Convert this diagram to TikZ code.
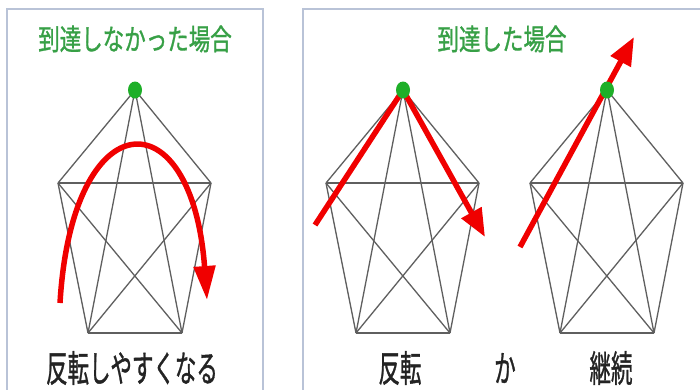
\documentclass[tikz,border=0pt]{standalone}
\usepackage{fontspec}
\newfontfamily\jp[FakeBold=1.2]{Noto Sans CJK JP}
\usetikzlibrary{arrows.meta,shapes.geometric}
\definecolor{framecol}{RGB}{185,195,215}
\definecolor{edgegray}{RGB}{95,95,95}
\definecolor{titlegreen}{RGB}{55,160,70}
\definecolor{dotgreen}{RGB}{30,175,40}
\definecolor{arrowred}{RGB}{240,0,0}
\definecolor{labelcol}{RGB}{35,35,35}
\tikzset{
  panel/.style={draw=framecol, line width=1.5pt},
  edge/.style={draw=edgegray, line width=1.3pt},
  thickedge/.style={draw=edgegray, line width=2.8pt},
  thinedge/.style={draw=edgegray, line width=2pt},
  redarrow/.style={draw=arrowred, line width=5.5pt, line join=miter,
    -{Triangle[length=28pt,width=22pt]}},
  topdot/.style={ellipse, fill=dotgreen, minimum width=14pt, minimum height=17pt, inner sep=0pt},
  titletext/.style={text=titlegreen, font=\jp\fontsize{21.5}{22}\selectfont, inner sep=0pt},
  labeltext/.style={text=labelcol, font=\jp\fontsize{21.5}{22}\selectfont, inner sep=0pt}
}
\begin{document}
\begin{tikzpicture}[x=1pt,y=-1pt]
\useasboundingbox (0,0) rectangle (700,389);
\clip (0,0) rectangle (700,389);
\fill[white] (0,0) rectangle (700,389);
% panels
\draw[panel] (7,9) rectangle (263,420);
\draw[panel] (303,9) rectangle (720,420);
% pentagon graphs (K5)
\foreach \n/\ax in {L/135, M/403, R/607} {
  \coordinate (\n-a) at (\ax,90);
  \coordinate (\n-ul) at (\ax-77,183);
  \coordinate (\n-ur) at (\ax+76,183);
  \coordinate (\n-bl) at (\ax-47,333);
  \coordinate (\n-br) at (\ax+47,333);
  \draw[edge] (\n-a) -- (\n-ul);
  \draw[edge] (\n-a) -- (\n-ur);
  \draw[edge] (\n-a) -- (\n-bl);
  \draw[edge] (\n-a) -- (\n-br);
  \draw[edge] (\n-ul) -- (\n-bl);
  \draw[edge] (\n-ur) -- (\n-br);
  \draw[edge] (\n-ul) -- (\n-br);
  \draw[edge] (\n-ur) -- (\n-bl);
  \draw[thinedge] (\n-bl) -- (\n-br);
  \draw[thickedge] (\n-ul) -- (\n-ur);
}
% red arrows
\coordinate (Lstart) at (60,303);
\coordinate (Lend) at (207,300);
\draw[redarrow, -{Triangle[length=34pt,width=21pt]}] (Lstart) .. controls (72,100) and (192,95) .. (Lend);
\coordinate (Mstart) at (315,225);
\coordinate (Mend) at (485,237);
\draw[redarrow] (Mstart) -- (M-a) -- (Mend);
\coordinate (Rstart) at (520,247);
\coordinate (Rend) at (634,37);
\draw[redarrow] (Rstart) -- (Rend);
% green dots
\node[topdot] (Ldot) at (L-a) {};
\node[topdot] (Mdot) at (M-a) {};
\node[topdot] (Rdot) at (R-a) {};
% titles
\node[titletext] (t1) at (135,39) {\scalebox{1}[1.35]{到達しなかった場合}};
\node[titletext] (t2) at (502,39) {\scalebox{1}[1.35]{到達した場合}};
% labels
\node[labeltext] (l1) at (132,368) {\scalebox{1}[1.7]{反転しやすくなる}};
\node[labeltext] (l2) at (400,368) {\scalebox{1}[1.7]{反転}};
\node[labeltext] (l3) at (505,368) {\scalebox{1}[1.7]{か}};
\node[labeltext] (l4) at (611,368) {\scalebox{1}[1.7]{継続}};
\end{tikzpicture}
\end{document}
